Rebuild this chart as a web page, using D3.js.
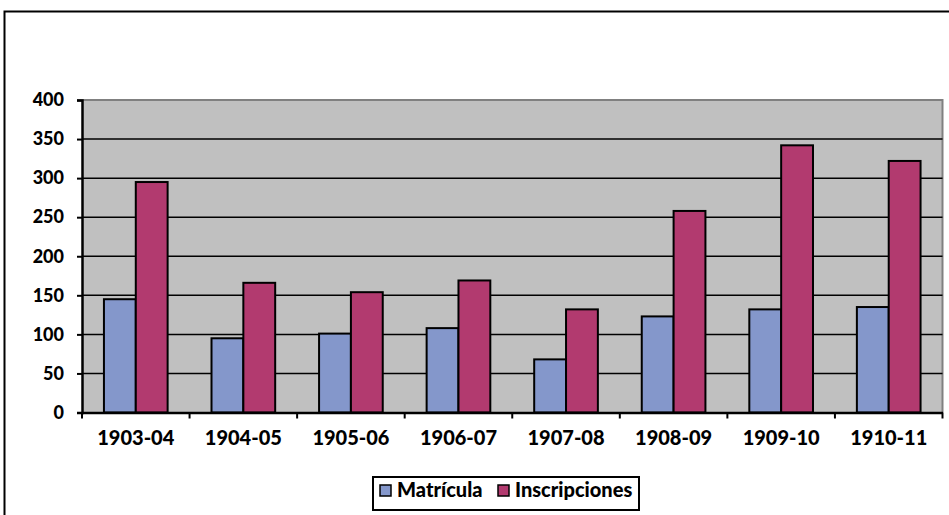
<!DOCTYPE html>
<html>
<head>
<meta charset="utf-8">
<script src="https://cdn.jsdelivr.net/npm/d3@7"></script>
<style>
  body { margin: 0; background: #fff; }
  text { font-family: Lato, "Open Sans", sans-serif; font-weight: 900; fill: #000; }
</style>
</head>
<body>
<svg id="chart" width="949" height="515"></svg>
<script>
// Data
var years = ["1903-04", "1904-05", "1905-06", "1906-07", "1907-08", "1908-09", "1909-10", "1910-11"];
var matricula = [145, 95, 101, 108, 68, 123, 132, 135];
var inscripciones = [295, 166, 154, 169, 132, 258, 342, 322];
var seriesNames = ["Matrícula", "Inscripciones"];
var colors = ["#8497CB", "#B23A6F"];
var yTicks = [0, 50, 100, 150, 200, 250, 300, 350, 400];

var svg = d3.select("#chart");

// outer chart border
svg.append("rect")
  .attr("x", 4.5).attr("y", 11.5)
  .attr("width", 960).attr("height", 520)
  .attr("fill", "#fff")
  .attr("stroke", "#000")
  .attr("stroke-width", 2);

const plot = { left: 82, right: 942.5, top: 100, bottom: 412.5 };

const x = d3.scaleBand()
  .domain(years)
  .range([plot.left, plot.right]);

const y = d3.scaleLinear()
  .domain([0, 400])
  .range([plot.bottom, plot.top]);

// plot background
svg.append("rect")
  .attr("x", plot.left).attr("y", plot.top)
  .attr("width", plot.right - plot.left).attr("height", plot.bottom - plot.top)
  .attr("fill", "#C0C0C0");

// top + right border in gray
svg.append("path")
  .attr("d", `M${plot.left},${plot.top}H${plot.right}V${plot.bottom}`)
  .attr("fill", "none")
  .attr("stroke", "#808080")
  .attr("stroke-width", 2);

// gridlines
svg.append("g")
  .selectAll("line")
  .data(yTicks.filter(d => d > 0 && d < 400))
  .enter()
  .append("line")
  .attr("x1", plot.left).attr("x2", plot.right)
  .attr("y1", d => y(d)).attr("y2", d => y(d))
  .attr("stroke", "#000")
  .attr("stroke-width", 1.5);

// bars
const barW = x.bandwidth() * 0.296;
const series = [matricula, inscripciones];
series.forEach(function(vals, si) {
  svg.append("g")
    .selectAll("rect")
    .data(vals)
    .enter()
    .append("rect")
    .attr("x", (d, i) => x(years[i]) + x.bandwidth() / 2 - barW + si * barW)
    .attr("y", d => y(d))
    .attr("width", barW)
    .attr("height", d => y(0) - y(d))
    .attr("fill", colors[si])
    .attr("stroke", "#000")
    .attr("stroke-width", 2);
});

// y axis
const yAxis = d3.axisLeft(y).tickValues(yTicks).tickSize(5).tickPadding(13);
const gy = svg.append("g")
  .attr("transform", `translate(${plot.left},0)`)
  .call(yAxis);
gy.select(".domain").attr("stroke", "#000").attr("stroke-width", 2.5);
gy.selectAll(".tick line").attr("stroke", "#000").attr("stroke-width", 2);
gy.selectAll("text").style("font-size", "18px").attr("font-family", null);

// x axis
const xAxis = d3.axisBottom(x).tickSize(0).tickPadding(18);
const gx = svg.append("g")
  .attr("transform", `translate(0,${plot.bottom})`)
  .call(xAxis);
gx.select(".domain").attr("stroke", "#000").attr("stroke-width", 2.5);
gx.selectAll("text").style("font-size", "20px").attr("font-family", null);

// x tick marks at category boundaries
svg.append("g")
  .selectAll("line")
  .data(years.concat(["end"]))
  .enter()
  .append("line")
  .attr("x1", (d, i) => i < years.length ? x(d) : plot.right)
  .attr("x2", (d, i) => i < years.length ? x(d) : plot.right)
  .attr("y1", plot.bottom)
  .attr("y2", plot.bottom + 6)
  .attr("stroke", "#000")
  .attr("stroke-width", 2);

// legend
const legend = svg.append("g");
legend.append("rect")
  .attr("x", 373).attr("y", 477)
  .attr("width", 266).attr("height", 33)
  .attr("fill", "#fff")
  .attr("stroke", "#000")
  .attr("stroke-width", 2);

const legendX = [380, 498];
seriesNames.forEach(function(name, i) {
  legend.append("rect")
    .attr("x", legendX[i]).attr("y", 485)
    .attr("width", 11).attr("height", 11)
    .attr("fill", colors[i])
    .attr("stroke", "#000")
    .attr("stroke-width", 1.5);
  legend.append("text")
    .attr("x", legendX[i] + 17).attr("y", 497)
    .style("font-size", "20px")
    .text(name);
});
</script>
</body>
</html>
